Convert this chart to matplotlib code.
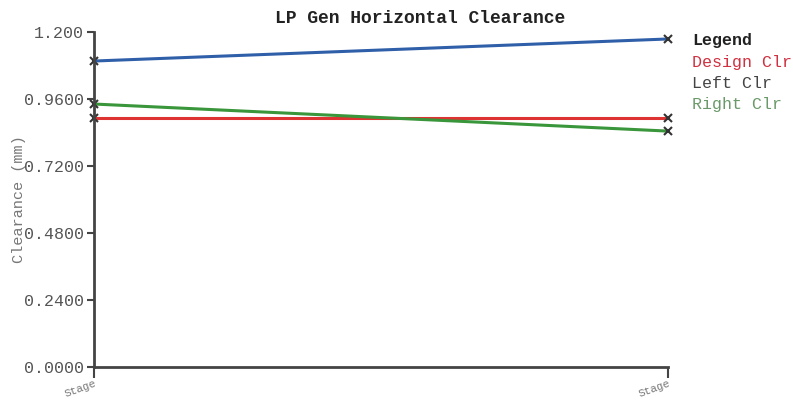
import matplotlib.pyplot as plt

# Data
stages = [0, 1]
stage_labels = ['Stage', 'Stage']
design_clr = [0.892, 0.892]
left_clr = [1.096, 1.175]
right_clr = [0.942, 0.845]

y_ticks = [0.0, 0.24, 0.48, 0.72, 0.96, 1.2]
y_tick_labels = ['0.0000', '0.2400', '0.4800', '0.7200', '0.9600', '1.200']

plt.rcParams['font.family'] = ['Liberation Mono', 'DejaVu Sans Mono']

fig = plt.figure(figsize=(7.93, 4.01), dpi=100)
ax = fig.add_axes([94/793, 34/401, 574/793, 335/401])

ax.plot(stages, left_clr, color='#2f5fa8', lw=2.2, marker='x', ms=6,
        mec='#333333', mew=1.5, clip_on=False)
ax.plot(stages, design_clr, color='#dd3333', lw=2.2, marker='x', ms=6,
        mec='#333333', mew=1.5, clip_on=False)
ax.plot(stages, right_clr, color='#3a963a', lw=2.2, marker='x', ms=6,
        mec='#333333', mew=1.5, clip_on=False)

ax.set_xlim(0, 1)
ax.set_ylim(0, 1.2)
ax.set_yticks(y_ticks)
ax.set_yticklabels(y_tick_labels, fontsize=12, color='#555555')
ax.set_xticks(stages)
ax.set_xticklabels(stage_labels, fontsize=8, color='#777777', rotation=20,
                   ha='right', rotation_mode='anchor')
ax.tick_params(axis='y', length=5, width=1.5, color='#444444', pad=2)
ax.tick_params(axis='x', length=8, width=1.5, color='#444444', pad=0)

for s in ['top', 'right']:
    ax.spines[s].set_visible(False)
for s in ['left', 'bottom']:
    ax.spines[s].set_color('#444444')
    ax.spines[s].set_linewidth(2)

ax.set_ylabel('Clearance (mm)', fontsize=11, color='#777777')
ax.yaxis.set_label_coords(-0.118, 0.5)
fig.text(0.53, 0.955, 'LP Gen Horizontal Clearance', ha='center', va='center',
         fontsize=13, fontweight='bold', color='#222222')

# Text legend at the right
leg_x = 692/793
fig.text(leg_x, 1 - 41/401, 'Legend', fontsize=12, fontweight='bold',
         color='#222222', va='center')
fig.text(leg_x, 1 - 62/401, 'Design Clr', fontsize=12, color='#d03040', va='center')
fig.text(leg_x, 1 - 83/401, 'Left Clr', fontsize=12, color='#444444', va='center')
fig.text(leg_x, 1 - 104/401, 'Right Clr', fontsize=12, color='#6a9a6a', va='center')

fig.savefig('out.png', dpi=100)
